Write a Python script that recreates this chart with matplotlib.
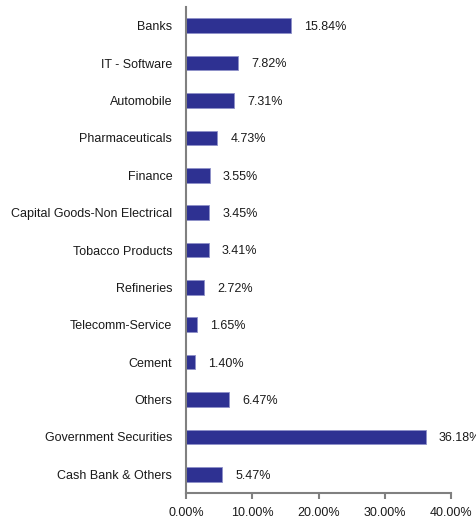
import matplotlib.pyplot as plt

plt.rcParams['font.family'] = ['Liberation Sans', 'DejaVu Sans']

# Data
sectors = ['Banks', 'IT - Software', 'Automobile', 'Pharmaceuticals', 'Finance',
           'Capital Goods-Non Electrical', 'Tobacco Products', 'Refineries',
           'Telecomm-Service', 'Cement', 'Others', 'Government Securities',
           'Cash Bank & Others']
weights = [15.84, 7.82, 7.31, 4.73, 3.55, 3.45, 3.41, 2.72, 1.65, 1.40, 6.47, 36.18, 5.47]
xticks = [0, 10, 20, 30, 40]

bar_color = '#2E3192'
axis_color = '#808080'

fig = plt.figure(figsize=(4.76, 5.19), dpi=100)
ax = fig.add_axes([0.3908, 0.0501, 0.5567, 0.9364])

ypos = list(range(len(sectors)))
ax.barh(ypos, weights, height=0.39, color=bar_color, edgecolor='#8E90C8', linewidth=0.6)

for y, w in zip(ypos, weights):
    ax.annotate(f'{w:.2f}%', (w, y), xytext=(9.5, -1), textcoords='offset points',
                va='center', ha='left', fontsize=9, color='#1a1a1a')

ax.set_ylim(len(sectors) - 0.5, -0.5)
ax.set_xlim(0, 40)
ax.set_yticks(ypos)
ax.set_yticklabels(sectors, fontsize=9, color='#1a1a1a')
ax.set_xticks(xticks)
ax.set_xticklabels([f'{t:.2f}%' for t in xticks], fontsize=9, color='#1a1a1a')

for s in ['top', 'right']:
    ax.spines[s].set_visible(False)
for s in ['left', 'bottom']:
    ax.spines[s].set_color(axis_color)
    ax.spines[s].set_linewidth(1.5)
ax.tick_params(axis='y', length=0, pad=10)
ax.tick_params(axis='x', length=4, width=1.5, color=axis_color, pad=6)

fig.savefig('out.png', dpi=100)
